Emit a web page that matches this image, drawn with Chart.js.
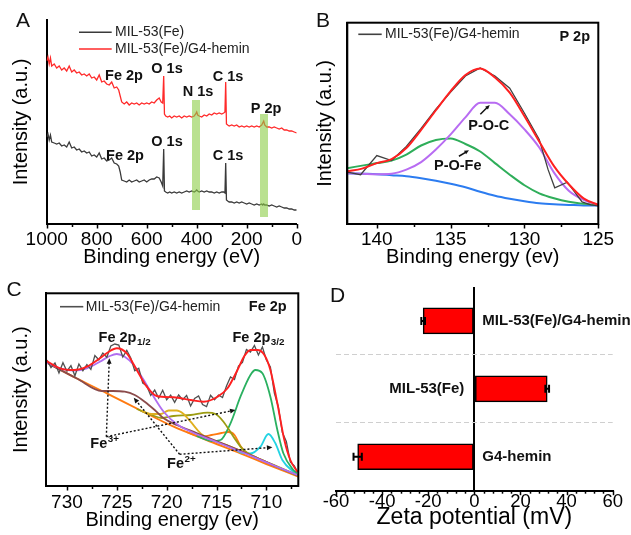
<!DOCTYPE html>
<html>
<head>
<meta charset="utf-8">
<script src="https://cdn.jsdelivr.net/npm/chart.js@4.4.1/dist/chart.umd.min.js"></script>
<style>
  html, body { margin: 0; padding: 0; background: #fff; }
  #fig { position: relative; width: 631px; height: 535px; overflow: hidden; }
  #fig canvas { position: absolute; left: 0; top: 0; }
</style>
</head>
<body>
<div id="fig">
  <canvas id="chartA" width="631" height="535"></canvas>
  <canvas id="chartB" width="631" height="535"></canvas>
  <canvas id="chartC" width="631" height="535"></canvas>
  <canvas id="chartD" width="631" height="535"></canvas>
</div>
<script>
// ---------- A: XPS survey ----------
const surveyTicks = [1000, 800, 600, 400, 200, 0];
const surveyEnergy = [1000, 995, 990, 985, 980,
  970, 960, 950, 940, 930, 920, 910, 900, 890, 880,
  870, 860, 850, 840, 830, 820, 810, 800, 790, 780,
  770, 760, 750, 740, 730, 720, 712, 706, 700, 690,
  680, 670, 660, 650, 640, 630, 620, 610, 600, 590,
  580, 570, 560, 550, 542, 536, 532, 529, 524, 516,
  508, 500, 490, 480, 470, 460, 450, 440, 430, 420,
  410, 404, 400, 396, 390, 380, 370, 360, 350, 340,
  330, 320, 310, 300, 292, 287, 284, 281, 276, 270,
  260, 250, 240, 230, 220, 210, 200, 190, 180, 170,
  160, 150, 140, 136, 132, 128, 120, 110, 100, 90,
  80, 70, 60, 50, 40, 30, 20, 10, 0];
const surveyHybrid = [163, 167, 160, 166, 158,
  160, 156, 158, 154, 156, 153, 158, 152, 154, 151,
  152, 149, 150, 148, 150, 146, 147, 144, 149, 142,
  143, 140, 139, 142, 136, 137, 134, 128, 122, 120,
  122, 119, 121, 120, 121, 119, 121, 120, 121, 120,
  122, 121, 124, 126, 122, 121, 148, 110, 108, 107,
  108, 106, 108, 107, 108, 106, 108, 107, 108, 107,
  108, 110, 112, 109, 108, 107, 109, 108, 110, 109,
  111, 110, 111, 110, 111, 112, 142, 100, 99, 98,
  99, 98, 99, 97, 98, 97, 98, 97, 98, 97,
  98, 97, 99, 101, 103, 99, 97, 97, 96, 97,
  96, 95, 96, 94, 94, 93, 93, 92, 91];
const surveyMil = [87, 90, 84, 89, 82,
  81, 80, 81, 78, 79, 77, 82, 76, 77, 74,
  75, 72, 73, 71, 72, 68, 69, 67, 71, 65,
  66, 63, 64, 66, 61, 60, 58, 52, 44, 43,
  42, 44, 42, 43, 44, 42, 43, 44, 42, 44,
  45, 45, 47, 46, 42, 38, 75, 33, 32, 31,
  32, 31, 32, 31, 32, 31, 32, 33, 32, 33,
  32, 33, 34, 33, 32, 33, 32, 33, 32, 32,
  31, 32, 31, 32, 32, 31, 61, 24, 23, 22,
  22, 21, 22, 21, 22, 21, 20, 21, 20, 19,
  20, 19, 20, 19, 20, 19, 19, 18, 19, 18,
  17, 18, 17, 16, 16, 15, 15, 14, 14];
// highlighted regions: [eV from, eV to, intensity from, intensity to]
const surveyBands = [[418.8, 386.8, 14, 124], [146.8, 114.8, 7, 110]];

// ---------- B: P 2p ----------
const p2pTicks = [140, 135, 130, 125];
const p2pRawEnergy = [142, 141.1, 140, 139, 138, 137, 136, 135, 134, 133, 132, 131, 130, 129, 128.4, 127.95, 127.1, 126.1, 125.5, 125];
const p2pRaw = [51.5, 49, 68, 63, 77, 95, 114, 131, 147, 155, 147, 135, 110, 84, 54, 36, 41.5, 22, 19, 18];
const p2pEnergy = [142, 141, 140, 139, 138, 137, 136, 135, 134, 133, 132, 131, 130, 129, 128, 127, 126, 125];
const p2pFit = [52.5, 55, 60.5, 64.5, 75.5, 93.5, 113, 132, 148, 154.5, 145.5, 130.5, 107, 82, 57.5, 39.5, 25.5, 19];
const p2pPOC = [50.5, 50, 49.5, 50, 54, 61.5, 74, 89, 106, 120.5, 120.5, 109, 94, 76, 51, 33, 24, 19];
const p2pPOFe = [55.5, 58, 60.5, 63, 69, 78, 83.5, 85, 79.5, 72, 60.5, 49, 38.5, 30.5, 25.5, 22, 20, 19];
const p2pBg = [50.5, 50, 49.5, 48.5, 47.5, 45.5, 43, 40, 36.5, 32, 28, 25, 22.5, 20.5, 19.5, 19, 18.5, 18.5];

// ---------- C: Fe 2p ----------
const fe2pTicks = [730, 725, 720, 715, 710];
const feRawEnergy = [732.0, 731.6, 731.2, 730.8, 730.4, 730.0, 729.6, 729.2, 728.8, 728.4,
  728.0, 727.6, 727.2, 726.8, 726.4, 726.0, 725.6, 725.2, 724.8, 724.4,
  724.0, 723.6, 723.2, 722.8, 722.4, 722.0, 721.6, 721.2, 720.8, 720.4,
  720.0, 719.6, 719.2, 718.8, 718.4, 718.0, 717.6, 717.2, 716.8, 716.4,
  716.0, 715.6, 715.2, 714.8, 714.4, 714.0, 713.6, 713.2, 712.8, 712.4,
  712.0, 711.6, 711.2, 710.8, 710.4, 710.0, 709.6, 709.2, 708.8, 708.4,
  708.0, 707.6, 707.2, 706.9];
const feRaw = [126, 118.5, 123, 113, 123.3, 114.8, 120.3, 110.2, 122, 115.3,
  121.3, 116.5, 130.5, 126.2, 133, 128.8, 140, 142, 141, 129,
  135.7, 128, 115.3, 117.7, 103, 100.3, 90.5, 95.9, 88, 95.7,
  86.2, 90.9, 83.6, 91, 86.3, 90.6, 80, 87.5, 90, 81.4,
  79.4, 90.7, 86.2, 91, 88.5, 100, 109, 106.5, 120, 123.5,
  136.5, 134, 140.5, 131, 139, 126, 119, 93, 79, 53.5,
  44.5, 24, 20, 14.3];
const feFitEnergy = [732.2, 730.7, 729.3, 728.0, 726.7, 725.8, 725.0, 724.0, 723.0, 722.0, 721.0, 719.3, 717.6,
  716.3, 714.9, 713.9, 712.9, 712.25, 711.6, 710.9, 710.2, 709.6, 708.9, 708.2, 707.6, 706.9];
const feFit = [126, 117.7, 116, 119.3, 127.7, 134.3, 137.7, 132.7, 116, 99.3, 90, 88.7, 86,
  84.3, 89.3, 97.7, 116, 129.3, 136, 136, 131, 116, 82.7, 46, 26, 14.3];
const fe3p12Energy = [732.2, 730.7, 729.3, 728.0, 726.7, 725.7, 725.0, 724.2, 723.3, 722.3, 721.3, 720.3, 719.0, 717.5, 715.0, 712.0, 709.0, 706.9];
const fe3p12 = [124.3, 117.7, 115.3, 117.7, 124.3, 130, 132, 129.3, 121, 106, 89.3, 74.3, 62, 54, 44, 32, 19.5, 11];
const fe2p12Energy = [732.2, 729.0, 726.5, 725.4, 724.2, 723.2, 722.2, 721.2, 720.3, 719.0, 717.0, 714.0, 711.0, 709.0, 706.9];
const fe2p12 = [124.3, 107.5, 95, 95, 94.3, 91, 84.3, 76, 67.7, 61, 53, 41, 28.5, 19.5, 10.5];
const feSat1Energy = [722.5, 721.5, 720.6, 719.8, 719.0, 718.3, 717.6, 716.6, 715.5, 714.0, 711.0, 708.5, 706.9];
const feSat1 = [75, 72, 72, 75.5, 75.5, 72, 64.3, 52.7, 46, 41, 28.5, 17, 10.5];
const feSat2Energy = [723.0, 721.5, 720.5, 719.3, 717.6, 715.9, 715.1, 714.3, 713.3, 712.3, 711.0, 709.0, 706.9];
const feSat2 = [77, 71, 68, 70, 71, 73.3, 72, 64.3, 49.3, 36, 28.5, 20, 11];
const fe3p32Energy = [717.0, 715.5, 714.6, 713.6, 712.6, 711.6, 711.1, 710.4, 709.6, 708.9, 708.3, 707.3, 706.9];
const fe3p32 = [50, 45, 46, 62.7, 89.3, 111, 116, 112.7, 89.3, 56, 32.7, 16, 12.7];
const fe2p32Energy = [714.0, 713.0, 712.6, 711.6, 710.6, 709.8, 709.1, 708.4, 707.3, 706.9];
const fe2p32 = [41, 36, 33.5, 32.5, 39.3, 52, 42.7, 26, 14.3, 11.5];
const feSat3Energy = [718.0, 716.5, 715.5, 714.5, 713.8, 713.2, 712.6, 712.0];
const feSat3 = [54, 49.5, 51, 53, 54, 51, 40, 33];
const feBgEnergy = [732.2, 729.0, 726.0, 722.5, 719.3, 716.0, 712.6, 710.0, 706.8];
const feBg = [124.3, 107.5, 92.7, 75, 59.3, 46, 32.7, 22, 9.3];

// ---------- D: zeta potential ----------
const zetaLabels = ['MIL-53(Fe)/G4-hemin', 'MIL-53(Fe)', 'G4-hemin'];
const zetaValues = [-22.2, 31.6, -50.6];
const zetaErrors = [0.8, 0.8, 1.8];
const zetaTicks = [-60, -40, -20, 0, 20, 40, 60];

const FONT = '"Liberation Sans", Arial, Helvetica, sans-serif';
const W = 631, H = 535;
Chart.defaults.font.family = FONT;
Chart.defaults.color = '#000';

function pts(xs, ys) {
  return xs.map((x, i) => ({x: x, y: ys[i]}));
}

function line(label, xs, ys, color, width, order, smooth) {
  return {
    label: label,
    data: pts(xs, ys),
    borderColor: color,
    borderWidth: width,
    pointRadius: 0,
    fill: false,
    order: order,
    cubicInterpolationMode: smooth ? 'monotone' : 'default',
    tension: 0
  };
}

// work out paddings so the plot area lands where it is in the figure
function frame(area, o) {
  const yLH = (o.yTitleSize || 0) * 1.2, xLH = o.xTitleSize * 1.2, tLH = o.tickSize * 1.2;
  const yLeft = o.yTitleX !== undefined ? o.yTitleX - yLH / 2 : area.l;
  const xBottom = o.xTitleY + xLH / 2;
  return {
    padding: {left: yLeft, top: area.t, right: W - area.r, bottom: H - xBottom},
    yWidth: area.l - yLeft,
    xHeight: xBottom - area.b,
    tickPad: Math.max(0, o.tickY - area.b - tLH / 2),
    o: o
  };
}

function energyAxis(f, min, max, ticks, title) {
  return {
    type: 'linear', reverse: true, min: min, max: max, bounds: 'data',
    afterBuildTicks: s => { s.ticks = ticks.map(v => ({value: v})); },
    afterFit: s => { s.height = f.xHeight; },
    ticks: {autoSkip: false, maxRotation: 0, padding: f.tickPad, font: {size: f.o.tickSize}, color: '#000', callback: v => String(v)},
    grid: {display: false, drawTicks: false},
    border: {display: true, color: '#000', width: 2},
    title: {display: true, text: title, font: {size: f.o.xTitleSize}, color: '#000', padding: 0}
  };
}

function intensityAxis(f, max) {
  return {
    type: 'linear', min: 0, max: max, bounds: 'data',
    afterFit: s => { s.width = f.yWidth; },
    ticks: {display: false},
    grid: {display: false, drawTicks: false},
    border: {display: true, color: '#000', width: 2},
    title: {display: true, text: 'Intensity (a.u.)', font: {size: f.o.yTitleSize}, color: '#000', padding: 0}
  };
}

function drawLabel(ctx, item, x, y) {
  const size = item.size || 14.5;
  const small = item.sub || item.sup || '';
  ctx.font = 'bold ' + size + 'px ' + FONT;
  const w1 = ctx.measureText(item.text).width;
  ctx.font = 'bold ' + (size * 0.68) + 'px ' + FONT;
  const w2 = small ? ctx.measureText(small).width + 0.5 : 0;
  let x0 = x;
  if (item.align === 'center') x0 = x - (w1 + w2) / 2;
  if (item.align === 'right') x0 = x - w1 - w2;
  ctx.textAlign = 'left';
  ctx.textBaseline = 'middle';
  ctx.fillStyle = '#111';
  ctx.font = 'bold ' + size + 'px ' + FONT;
  ctx.fillText(item.text, x0, y);
  if (small) {
    ctx.font = 'bold ' + (size * 0.68) + 'px ' + FONT;
    ctx.fillText(small, x0 + w1 + 0.5, y + (item.sub ? size * 0.32 : -size * 0.3));
  }
}

function arrow(ctx, x1, y1, x2, y2, dotted, head) {
  const ang = Math.atan2(y2 - y1, x2 - x1);
  ctx.setLineDash(dotted ? [2, 2] : []);
  ctx.beginPath();
  ctx.moveTo(x1, y1);
  ctx.lineTo(x2 - Math.cos(ang) * head * 0.6, y2 - Math.sin(ang) * head * 0.6);
  ctx.stroke();
  ctx.setLineDash([]);
  ctx.beginPath();
  ctx.moveTo(x2, y2);
  ctx.lineTo(x2 - head * Math.cos(ang - 0.42), y2 - head * Math.sin(ang - 0.42));
  ctx.lineTo(x2 - head * Math.cos(ang + 0.42), y2 - head * Math.sin(ang + 0.42));
  ctx.closePath();
  ctx.fill();
}

// bands, frame box, minor ticks, legend, labels, arrows, error bars
const decoPlugin = {
  id: 'deco',
  afterDatasetsDraw(chart, args, o) {
    const ctx = chart.ctx, a = chart.chartArea;
    const xs = chart.scales.x, ys = chart.scales.y;
    const px = v => xs.getPixelForValue(v), py = v => ys.getPixelForValue(v);
    ctx.save();

    (o.bands || []).forEach(b => {
      const x0 = px(b[0]), x1 = px(b[1]);
      ctx.fillStyle = 'rgba(140, 205, 70, 0.6)';
      ctx.fillRect(Math.min(x0, x1), py(b[3]), Math.abs(x1 - x0), py(b[2]) - py(b[3]));
    });

    if (o.box) {
      ctx.strokeStyle = '#000';
      ctx.lineWidth = 2;
      ctx.strokeRect(a.left, a.top, a.right - a.left, a.bottom - a.top);
    }

    if (o.minor) {
      const major = xs.ticks.map(t => t.value);
      const lo = Math.min(xs.min, xs.max), hi = Math.max(xs.min, xs.max);
      const start = Math.ceil(lo / o.minor - 1e-6) * o.minor;
      ctx.strokeStyle = '#000';
      ctx.lineWidth = 1.5;
      for (let k = 0; start + k * o.minor <= hi + 1e-6; k++) {
        const v = start + k * o.minor;
        const isMajor = major.some(m => Math.abs(m - v) < 1e-6);
        const x = Math.round(px(v)) + 0.5;
        ctx.beginPath();
        ctx.moveTo(x, a.bottom);
        ctx.lineTo(x, a.bottom + (isMajor ? 4.5 : 3));
        ctx.stroke();
      }
    }

    if (o.legend) {
      const L = o.legend;
      L.items.forEach((di, r) => {
        const ds = chart.data.datasets[di];
        const y = a.top + L.y + r * L.row;
        ctx.strokeStyle = ds.borderColor;
        ctx.lineWidth = 1.6;
        ctx.beginPath();
        ctx.moveTo(a.left + L.x, y);
        ctx.lineTo(a.left + L.x + L.len, y);
        ctx.stroke();
        ctx.fillStyle = '#222';
        ctx.font = '14px ' + FONT;
        ctx.textAlign = 'left';
        ctx.textBaseline = 'middle';
        ctx.fillText(ds.label, a.left + L.x + L.len + L.gap, y);
      });
    }

    if (o.corner) {
      drawLabel(ctx, {text: o.corner.text, align: 'right'}, a.right - o.corner.dx, a.top + o.corner.dy);
    }

    (o.texts || []).forEach(t => drawLabel(ctx, t, px(t.x), py(t.y)));

    ctx.strokeStyle = '#111';
    ctx.fillStyle = '#111';
    ctx.lineWidth = o.arrowWidth || 1.5;
    (o.arrows || []).forEach(ar => {
      arrow(ctx, px(ar[0]), py(ar[1]), px(ar[2]), py(ar[3]), !!o.dotted, o.head || 5);
    });

    if (o.errors) {
      const meta = chart.getDatasetMeta(0);
      const vals = chart.data.datasets[0].data;
      ctx.strokeStyle = '#000';
      ctx.lineWidth = 2;
      meta.data.forEach((bar, i) => {
        const e = o.errors[i];
        const x1 = px(vals[i] - e), x2 = px(vals[i] + e), y = bar.y;
        ctx.beginPath();
        ctx.moveTo(x1, y); ctx.lineTo(x2, y);
        ctx.moveTo(x1, y - 4); ctx.lineTo(x1, y + 4);
        ctx.moveTo(x2, y - 4); ctx.lineTo(x2, y + 4);
        ctx.stroke();
      });
      // category names sit on the other side of the zero line
      ctx.fillStyle = '#111';
      ctx.font = 'bold 15px ' + FONT;
      ctx.textBaseline = 'middle';
      meta.data.forEach((bar, i) => {
        const x0 = px(0);
        if (vals[i] < 0) {
          ctx.textAlign = 'left';
          ctx.fillText(chart.data.labels[i], x0 + 8, bar.y);
        } else {
          ctx.textAlign = 'right';
          ctx.fillText(chart.data.labels[i], x0 - 10, bar.y);
        }
      });
    }

    if (o.letter) {
      ctx.fillStyle = '#111';
      ctx.font = '21px ' + FONT;
      ctx.textAlign = 'center';
      ctx.textBaseline = 'middle';
      ctx.fillText(o.letter.text, o.letter.x, o.letter.y);
    }
    ctx.restore();
  }
};

function xpsChart(id, f, datasets, xAxis, yAxis, deco) {
  return new Chart(document.getElementById(id), {
    type: 'line',
    data: {datasets: datasets},
    options: {
      responsive: false,
      animation: false,
      layout: {padding: f.padding},
      scales: {x: xAxis, y: yAxis},
      plugins: {legend: {display: false}, tooltip: {enabled: false}, deco: deco}
    },
    plugins: [decoPlugin]
  });
}

// A
const fA = frame({l: 46.7, r: 296.7, t: 20, b: 224}, {tickSize: 19, xTitleSize: 20, yTitleSize: 20, yTitleX: 21.5, tickY: 239.5, xTitleY: 257.5});
xpsChart('chartA', fA, [
  line('MIL-53(Fe)/G4-hemin', surveyEnergy, surveyHybrid, '#ff2a2a', 1.3, 0, false),
  line('MIL-53(Fe)', surveyEnergy, surveyMil, '#3a3a3a', 1.3, 1, false)
], energyAxis(fA, 0, 1000, surveyTicks, 'Binding energy (eV)'), intensityAxis(fA, 204), {
  letter: {text: 'A', x: 23, y: 21},
  minor: 100,
  bands: surveyBands,
  legend: {x: 32.3, y: 12.3, len: 32.7, gap: 3.3, row: 16.7, items: [1, 0]},
  texts: [
    {text: 'Fe 2p', x: 690.8, y: 148, align: 'center'},
    {text: 'O 1s', x: 518.8, y: 155, align: 'center'},
    {text: 'N 1s', x: 394.8, y: 132, align: 'center'},
    {text: 'C 1s', x: 274.8, y: 147, align: 'center'},
    {text: 'P 2p', x: 122.8, y: 115, align: 'center'},
    {text: 'Fe 2p', x: 686.8, y: 68, align: 'center'},
    {text: 'O 1s', x: 518.8, y: 82, align: 'center'},
    {text: 'C 1s', x: 274.8, y: 68, align: 'center'}
  ]
});

// B
const fB = frame({l: 347.3, r: 598.3, t: 22.7, b: 224}, {tickSize: 19, xTitleSize: 20, yTitleSize: 20, yTitleX: 325, tickY: 239.5, xTitleY: 257.5});
xpsChart('chartB', fB, [
  line('Fit', p2pEnergy, p2pFit, '#ff2020', 2, 0, true),
  line('MIL-53(Fe)/G4-hemin', p2pRawEnergy, p2pRaw, '#404040', 1.3, 1, false),
  line('P-O-C', p2pEnergy, p2pPOC, '#b86cf2', 2, 2, true),
  line('P-O-Fe', p2pEnergy, p2pPOFe, '#2fae5a', 2, 3, true),
  line('Background', p2pEnergy, p2pBg, '#2c7cf0', 2, 4, true)
], energyAxis(fB, 125, 142, p2pTicks, 'Binding energy (ev)'), intensityAxis(fB, 200), {
  letter: {text: 'B', x: 323, y: 21},
  box: true,
  minor: 2.5,
  legend: {x: 11, y: 11.6, len: 23.4, gap: 3.3, row: 16, items: [1]},
  corner: {text: 'P 2p', dx: 8.3, dy: 14},
  texts: [
    {text: 'P-O-C', x: 132.42, y: 97.3, align: 'center'},
    {text: 'P-O-Fe', x: 134.52, y: 57.3, align: 'center'}
  ],
  arrows: [[132.99, 109, 132.35, 118.3], [134.44, 67.3, 133.76, 73.3]],
  head: 5
});

// C
const fC = frame({l: 46, r: 298.3, t: 293.3, b: 486}, {tickSize: 19, xTitleSize: 20, yTitleSize: 20, yTitleX: 21.5, tickY: 502.5, xTitleY: 520});
xpsChart('chartC', fC, [
  line('Fit', feFitEnergy, feFit, '#ff2020', 1.9, 0, true),
  line('MIL-53(Fe)/G4-hemin', feRawEnergy, feRaw, '#505050', 1.3, 1, false),
  line('Fe3+ 2p1/2', fe3p12Energy, fe3p12, '#b06ef0', 1.8, 2, true),
  line('Fe2+ 2p1/2', fe2p12Energy, fe2p12, '#8b4b4b', 1.8, 3, true),
  line('Sat 1', feSat1Energy, feSat1, '#e0b020', 1.8, 4, true),
  line('Sat 2', feSat2Energy, feSat2, '#9c9c12', 1.8, 5, true),
  line('Fe3+ 2p3/2', fe3p32Energy, fe3p32, '#2ab060', 1.8, 6, true),
  line('Fe2+ 2p3/2', fe2p32Energy, fe2p32, '#22d3e3', 1.8, 7, true),
  line('Sat 3', feSat3Energy, feSat3, '#ff7a10', 1.8, 8, true),
  line('Background', feBgEnergy, feBg, '#ff7a10', 1.9, 9, true)
], energyAxis(fC, 706.8, 732.1, fe2pTicks, 'Binding energy (ev)'), intensityAxis(fC, 192.7), {
  letter: {text: 'C', x: 14, y: 290},
  box: true,
  minor: 2.5,
  legend: {x: 14, y: 13.4, len: 23.3, gap: 2.5, row: 16, items: [1]},
  corner: {text: 'Fe 2p', dx: 11.6, dy: 13.4},
  texts: [
    {text: 'Fe 2p', sub: '1/2', x: 726.83, y: 148, align: 'left'},
    {text: 'Fe 2p', sub: '3/2', x: 713.4, y: 148, align: 'left'},
    {text: 'Fe', sup: '3+', x: 727.66, y: 42, align: 'left'},
    {text: 'Fe', sup: '2+', x: 719.96, y: 22, align: 'left'}
  ],
  dotted: true,
  head: 6,
  arrowWidth: 1.4,
  arrows: [
    [726.05, 49.3, 725.75, 127.7],
    [726.05, 49.3, 713.1, 76],
    [718.7, 31.7, 723.3, 88.3],
    [718.7, 31.7, 709.4, 38.7]
  ]
});

// D
const fD = frame({l: 336, r: 612.7, t: 287, b: 490.7}, {tickSize: 18.5, xTitleSize: 23, tickY: 501.5, xTitleY: 518});
new Chart(document.getElementById('chartD'), {
  type: 'bar',
  data: {
    labels: zetaLabels,
    datasets: [{
      label: 'Zeta potential',
      data: zetaValues,
      backgroundColor: '#ff0000',
      borderColor: '#000',
      borderWidth: 1.5,
      borderSkipped: false,
      barThickness: 26
    }]
  },
  options: {
    indexAxis: 'y',
    responsive: false,
    animation: false,
    layout: {padding: fD.padding},
    scales: {
      x: {
        type: 'linear', min: -60, max: 60, bounds: 'data',
        afterBuildTicks: s => { s.ticks = zetaTicks.map(v => ({value: v})); },
        afterFit: s => { s.height = fD.xHeight; },
        ticks: {autoSkip: false, maxRotation: 0, padding: fD.tickPad, font: {size: 18.5}, color: '#000', callback: v => String(v)},
        grid: {
          color: c => (c.tick && c.tick.value === 0) ? '#000' : 'rgba(0,0,0,0)',
          lineWidth: 2,
          drawTicks: false
        },
        border: {display: true, color: '#000', width: 2},
        title: {display: true, text: 'Zeta potential (mV)', font: {size: 23}, color: '#000', padding: 0}
      },
      y: {
        afterFit: s => { s.width = 0; },
        ticks: {display: false},
        grid: {
          offset: true,
          drawTicks: false,
          lineWidth: 1,
          color: c => (c.index === 1 || c.index === 2) ? '#cfcfcf' : 'rgba(0,0,0,0)'
        },
        border: {display: false, dash: [5, 3]}
      }
    },
    plugins: {
      legend: {display: false},
      tooltip: {enabled: false},
      deco: {
        letter: {text: 'D', x: 337.5, y: 296},
        minor: 4,
        errors: zetaErrors
      }
    }
  },
  plugins: [decoPlugin]
});
</script>
</body>
</html>
